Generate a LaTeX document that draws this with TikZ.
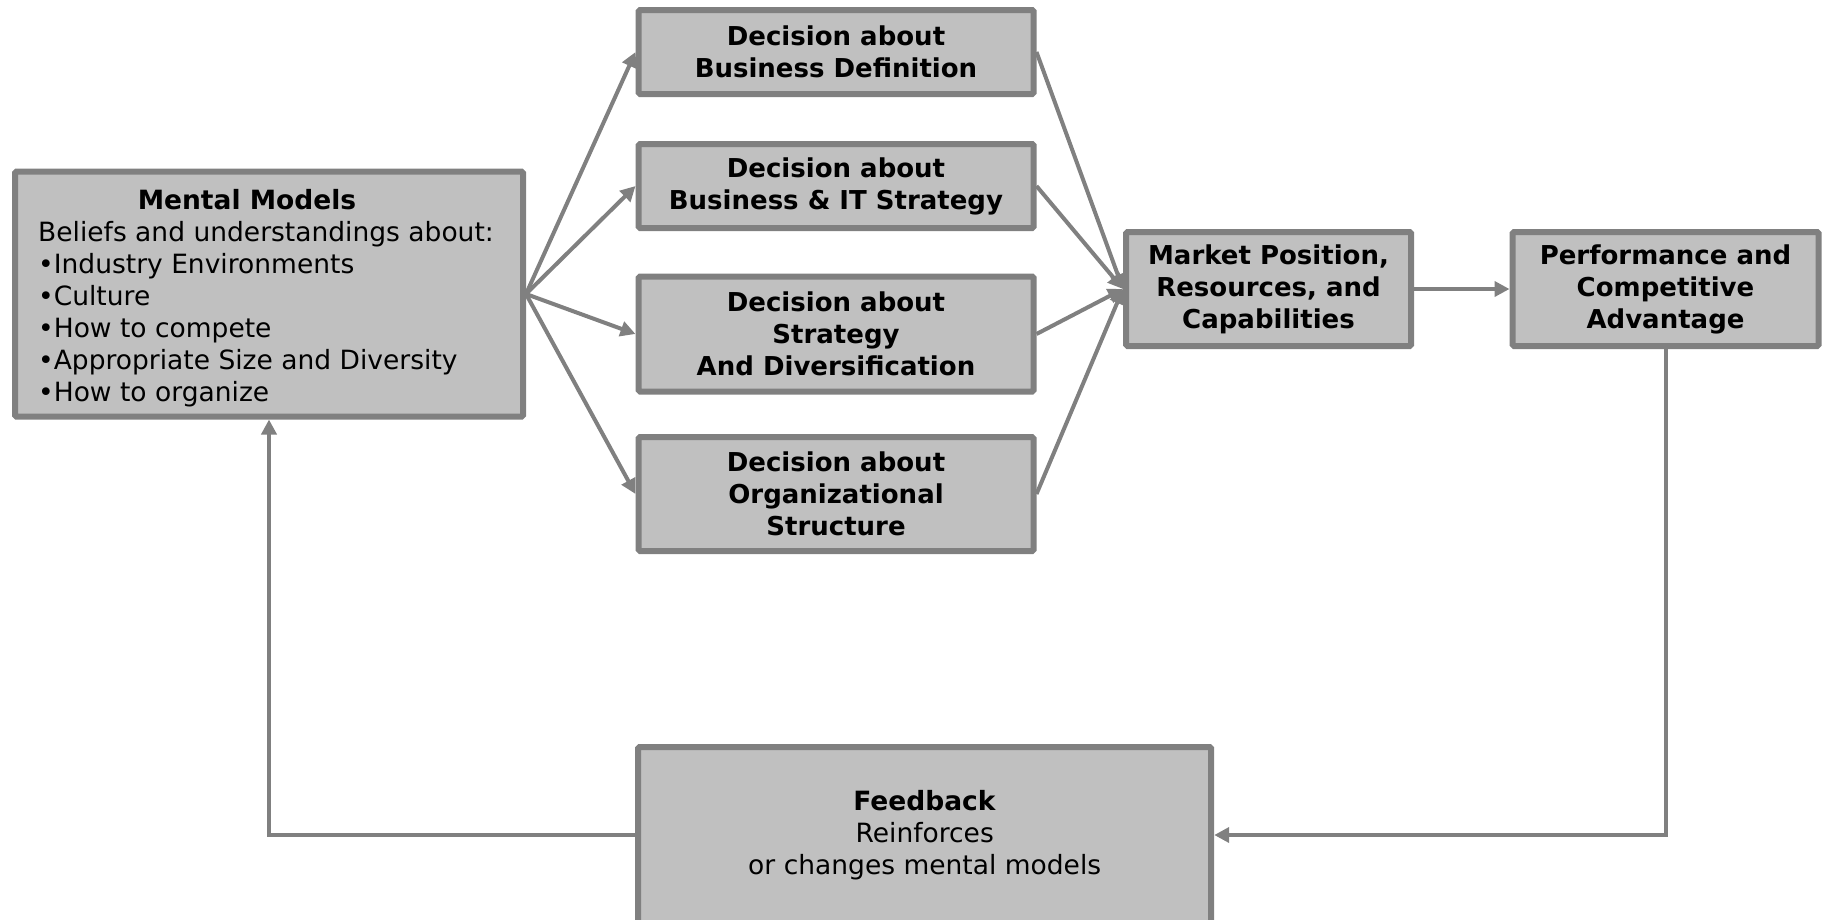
\documentclass[tikz,border=0pt]{standalone}
\usepackage{fontspec}
\setmainfont{DejaVu Sans}
\usetikzlibrary{arrows.meta}
\definecolor{boxfill}{HTML}{C0C0C0}
\definecolor{edgegray}{HTML}{808080}
\begin{document}
\begin{tikzpicture}[x=1pt,y=-1pt,
  box/.style={draw=edgegray, fill=boxfill, line width=6pt, rounded corners=1.5pt,
    align=center, inner sep=0pt, font=\fontsize{26}{32}\selectfont\bfseries},
  plainbox/.style={box, font=\fontsize{26.5}{32}\selectfont},
  conn/.style={draw=edgegray, line width=4pt,
    -{Triangle[length=15pt,width=15pt]}}]
\useasboundingbox (0,0) rectangle (1825,919);

% left: mental models
\node[plainbox, minimum width=508pt, minimum height=245pt]
  (mental) at (269,294) {};
\node[font=\fontsize{26.5}{32}\selectfont, inner sep=0pt]
  (mentaltext) at ([xshift=-3pt,yshift=-5pt]mental.center)
  {\begin{tabular}{@{}l@{}}
   \multicolumn{1}{c}{\textbf{Mental Models}\kern38pt}\\
   Beliefs and understandings about:\\
   •Industry Environments\\
   •Culture\\
   •How to compete\\
   •Appropriate Size and Diversity\\
   •How to organize
   \end{tabular}};

% decisions
\node[box, minimum width=395pt, minimum height=84pt] (bd) at (836,52)
  {Decision about\\Business Definition};
\node[box, minimum width=395pt, minimum height=84pt] (bit) at (836,186)
  {Decision about\\Business \& IT Strategy};
\node[box, minimum width=395pt, minimum height=115pt] (sd) at (836,334)
  {Decision about\\Strategy\\And Diversification};
\node[box, minimum width=395pt, minimum height=114pt] (os) at (836,494)
  {Decision about\\Organizational\\Structure};

% outcomes
\node[box, minimum width=285pt, minimum height=114pt] (market) at (1268.5,289)
  {Market Position,\\Resources, and\\Capabilities};
\node[box, minimum width=306pt, minimum height=114pt] (perf) at (1665.5,289)
  {Performance and\\Competitive\\Advantage};

% feedback
\node[plainbox, minimum width=573pt, minimum height=176pt]
  (fb) at (924.7,835)
  {\textbf{Feedback}\\Reinforces\\or changes mental models};

% connectors
\foreach \d in {bd,bit,sd,os} {
  \draw[conn] (mental.east) -- (\d.west);
  \draw[conn] (\d.east) -- (market.west);
}
\draw[conn] (market) -- (perf);
\draw[conn] (perf.south) |- (fb.east);
\draw[conn] (fb.west) -| (mental.south);
\end{tikzpicture}
\end{document}
